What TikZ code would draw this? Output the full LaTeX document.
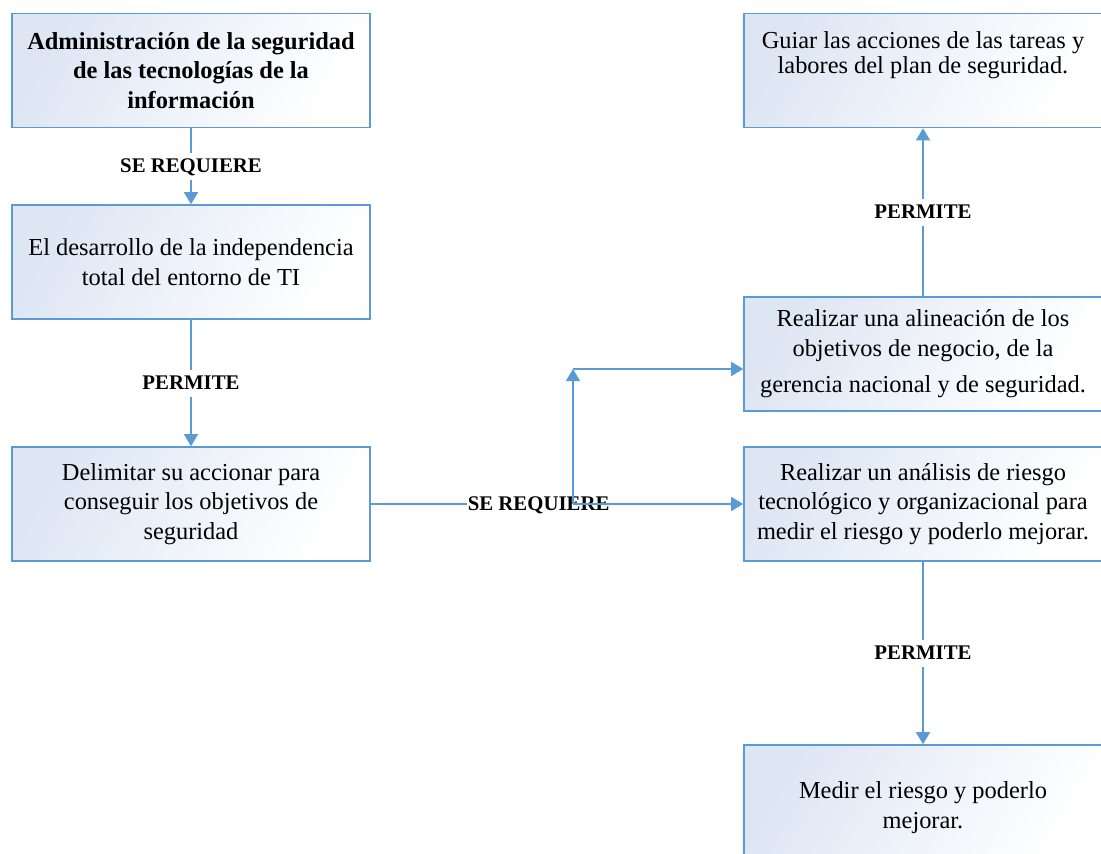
\documentclass[tikz,border=0pt]{standalone}
\usepackage{fontspec}
\setmainfont{Liberation Serif}
\usetikzlibrary{arrows.meta}
\definecolor{flowblue}{RGB}{91,155,213}
\definecolor{fillblue}{RGB}{222,230,244}
\begin{document}
\begin{tikzpicture}[x=1pt,y=-1pt,
  boxtext/.style={font=\fontsize{24.4}{29.5}\selectfont},
  box/.style={boxtext, draw=flowblue, line width=1.6pt, rectangle,
    minimum width=358pt, minimum height=114pt, inner sep=0pt, align=center,
    left color=fillblue, right color=white, shading angle=60},
  txt/.style={align=center, inner sep=0pt},
  conn/.style={draw=flowblue, line width=1.5pt},
  arr/.style={conn, -{Triangle[length=12pt,width=14pt]}},
  lbl/.style={fill=white, font=\bfseries\fontsize{20.8}{24}\selectfont,
    inner xsep=1pt, inner ysep=6pt, text height=14pt, text depth=1pt}]
\useasboundingbox (0,0) rectangle (1101,854);

% left column
\node[box, font=\bfseries\fontsize{24.4}{29.5}\selectfont] (a1) at (191,70.5)
  {Administración de la seguridad\\ de las tecnologías de la\\ información};
\node[box] (a2) at (191,262) {El desarrollo de la independencia\\ total del entorno de TI};
\node[box] (a3) at (191,504) {Delimitar su accionar para\\ conseguir los objetivos de\\ seguridad};

% right column
\node[box] (g) at (923,70.5) {};
\node[txt, font=\fontsize{24.4}{25}\selectfont] (gt) at (923,55)
  {Guiar las acciones de las tareas y\\ labores del plan de seguridad.};
\node[box] (al) at (923,354) {Realizar una alineación de los\\ objetivos de negocio, de la\\[7pt] gerencia nacional y de seguridad.};
\node[box] (an) at (923,504) {Realizar un análisis de riesgo\\ tecnológico y organizacional para\\ medir el riesgo y poderlo mejorar.};
\node[box, minimum height=125pt] (m) at (923,807.5) {Medir el riesgo y poderlo\\ mejorar.};

% vertical links
\draw[arr] (a1) -- node[lbl] (l1) {SE REQUIERE} (a2);
\draw[arr] (a2) -- node[lbl] (l2) {PERMITE} (a3);
\draw[arr] (al) -- node[lbl] (l3) {PERMITE} (g);
\draw[arr] (an) -- node[lbl] (l4) {PERMITE} (m);

% branching link from the third box
\coordinate (j) at (573,504);
\coordinate (c) at (573,369);
\draw[conn] (a3.east) -- node[lbl, pos=0.83] (l5) {SE REQUIERE} (j);
\draw[arr] (j) -- (an.west);
\draw[arr] (j) -- (c);
\draw[arr] (c) -- (c -| al.west);
\end{tikzpicture}
\end{document}
